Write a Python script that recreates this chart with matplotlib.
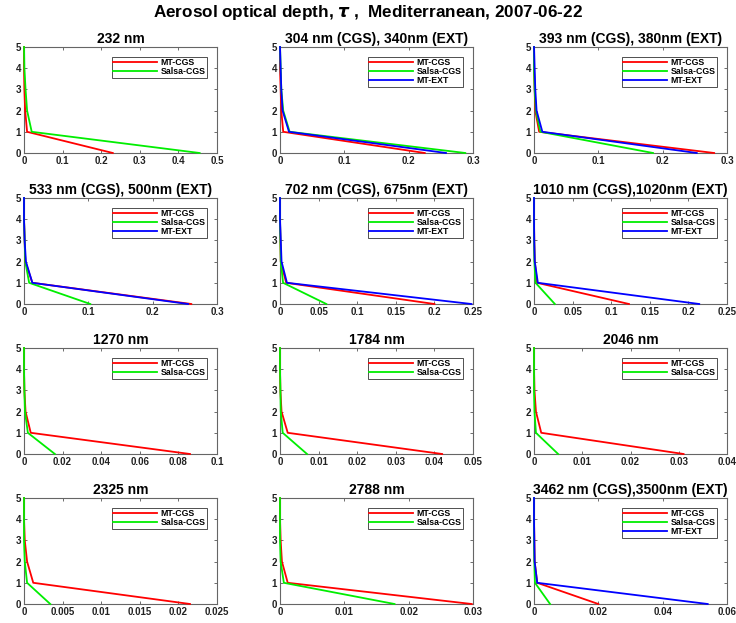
import numpy as np
import matplotlib
matplotlib.use("Agg")
import matplotlib.pyplot as plt
from matplotlib.ticker import FuncFormatter, MultipleLocator

plt.rcParams['font.family'] = ['Liberation Sans', 'DejaVu Sans']
plt.rcParams['font.weight'] = 'bold'

# altitude levels (km)
alt = [0, 1, 2, 3, 4, 5]

titles = ['232 nm', '304 nm (CGS), 340nm (EXT)', '393 nm (CGS), 380nm (EXT)',
          '533 nm (CGS), 500nm (EXT)', '702 nm (CGS), 675nm (EXT)', '1010 nm (CGS),1020nm (EXT)',
          '1270 nm', '1784 nm', '2046 nm',
          '2325 nm', '2788 nm', '3462 nm (CGS),3500nm (EXT)']

# optical depth profiles, one list per panel (None where no EXT data)
mt_cgs = [
    [0.230, 0.008, 0.003, 0.001, 0.0, 0.0],
    [0.225, 0.005, 0.002, 0.001, 0.0, 0.0],
    [0.280, 0.008, 0.002, 0.001, 0.0, 0.0],
    [0.260, 0.013, 0.002, 0.001, 0.0, 0.0],
    [0.200, 0.008, 0.001, 0.0005, 0.0, 0.0],
    [0.123, 0.004, 0.001, 0.0003, 0.0, 0.0],
    [0.086, 0.0035, 0.0008, 0.0002, 0.0, 0.0],
    [0.042, 0.002, 0.0004, 0.0001, 0.0, 0.0],
    [0.031, 0.0015, 0.0004, 0.0001, 0.0, 0.0],
    [0.0215, 0.0012, 0.0004, 0.0001, 0.0, 0.0],
    [0.0298, 0.0012, 0.0003, 0.0001, 0.0, 0.0],
    [0.020, 0.001, 0.0002, 0.0001, 0.0, 0.0],
]
salsa_cgs = [
    [0.455, 0.020, 0.008, 0.004, 0.001, 0.0],
    [0.288, 0.015, 0.005, 0.002, 0.001, 0.0],
    [0.185, 0.010, 0.003, 0.001, 0.0, 0.0],
    [0.103, 0.008, 0.002, 0.001, 0.0, 0.0],
    [0.060, 0.004, 0.001, 0.0005, 0.0, 0.0],
    [0.027, 0.002, 0.0005, 0.0002, 0.0, 0.0],
    [0.016, 0.002, 0.0005, 0.0002, 0.0, 0.0],
    [0.007, 0.0007, 0.0002, 0.0001, 0.0, 0.0],
    [0.005, 0.0004, 0.0001, 0.0, 0.0, 0.0],
    [0.0034, 0.0004, 0.0001, 0.0, 0.0, 0.0],
    [0.0178, 0.0006, 0.0001, 0.0, 0.0, 0.0],
    [0.005, 0.0003, 0.0001, 0.0, 0.0, 0.0],
]
mt_ext = [
    None,
    [0.258, 0.014, 0.004, 0.002, 0.001, 0.0],
    [0.253, 0.013, 0.004, 0.002, 0.001, 0.0],
    [0.255, 0.013, 0.003, 0.001, 0.0, 0.0],
    [0.248, 0.009, 0.002, 0.001, 0.0, 0.0],
    [0.214, 0.005, 0.001, 0.0003, 0.0, 0.0],
    None, None, None, None, None,
    [0.054, 0.001, 0.0002, 0.0001, 0.0, 0.0],
]

xmax = [0.5, 0.3, 0.3, 0.3, 0.25, 0.25, 0.1, 0.05, 0.04, 0.025, 0.03, 0.06]
xstep = [0.1, 0.1, 0.1, 0.1, 0.05, 0.05, 0.02, 0.01, 0.01, 0.005, 0.01, 0.02]

W, H = 736, 623
fig = plt.figure(figsize=(W / 100, H / 100), dpi=100)
fig.suptitle(r'Aerosol optical depth, $\tau$ ,  Mediterranean, 2007-06-22',
             fontsize=12.3, fontweight='bold', y=1 - 13 / H, va='center')

lefts = [24, 280, 534]
tops = [47, 198, 348, 498]
aw, ah = 193, 106

fmt = FuncFormatter(lambda v, p: '%g' % round(v, 6))

for i in range(12):
    r, c = divmod(i, 3)
    ax = fig.add_axes([lefts[c] / W, 1 - (tops[r] + ah) / H, aw / W, ah / H])
    kw = dict(lw=1.3, zorder=3, clip_on=False)
    ax.plot(mt_cgs[i], alt, color='#ff0000', label='MT-CGS', **kw)
    ax.plot(salsa_cgs[i], alt, color='#00ee00', label='Salsa-CGS', **kw)
    if mt_ext[i] is not None:
        ax.plot(mt_ext[i], alt, color='#0000ff', label='MT-EXT', **kw)
    ax.set_xlim(0, xmax[i])
    ax.set_ylim(0, 5)
    ax.xaxis.set_major_locator(MultipleLocator(xstep[i]))
    ax.yaxis.set_major_locator(MultipleLocator(1))
    ax.xaxis.set_major_formatter(fmt)
    ax.tick_params(direction='in', top=True, right=True, length=2.5, width=0.6,
                   labelsize=7, pad=2, color='#555555', labelcolor='#222222')
    for s in ax.spines.values():
        s.set_color('#666666')
        s.set_linewidth(0.8)
    ax.set_title(titles[i], fontsize=10, fontweight='bold', pad=3)
    leg = ax.legend(loc='upper right', fontsize=6.3, frameon=True, fancybox=False,
                    handlelength=5, borderpad=0.2, labelspacing=0.0,
                    handletextpad=0.4, borderaxespad=1.1)
    leg.get_frame().set_edgecolor('black')
    leg.get_frame().set_linewidth(0.6)
    leg.set_zorder(5)

fig.savefig('out.png', dpi=100)
